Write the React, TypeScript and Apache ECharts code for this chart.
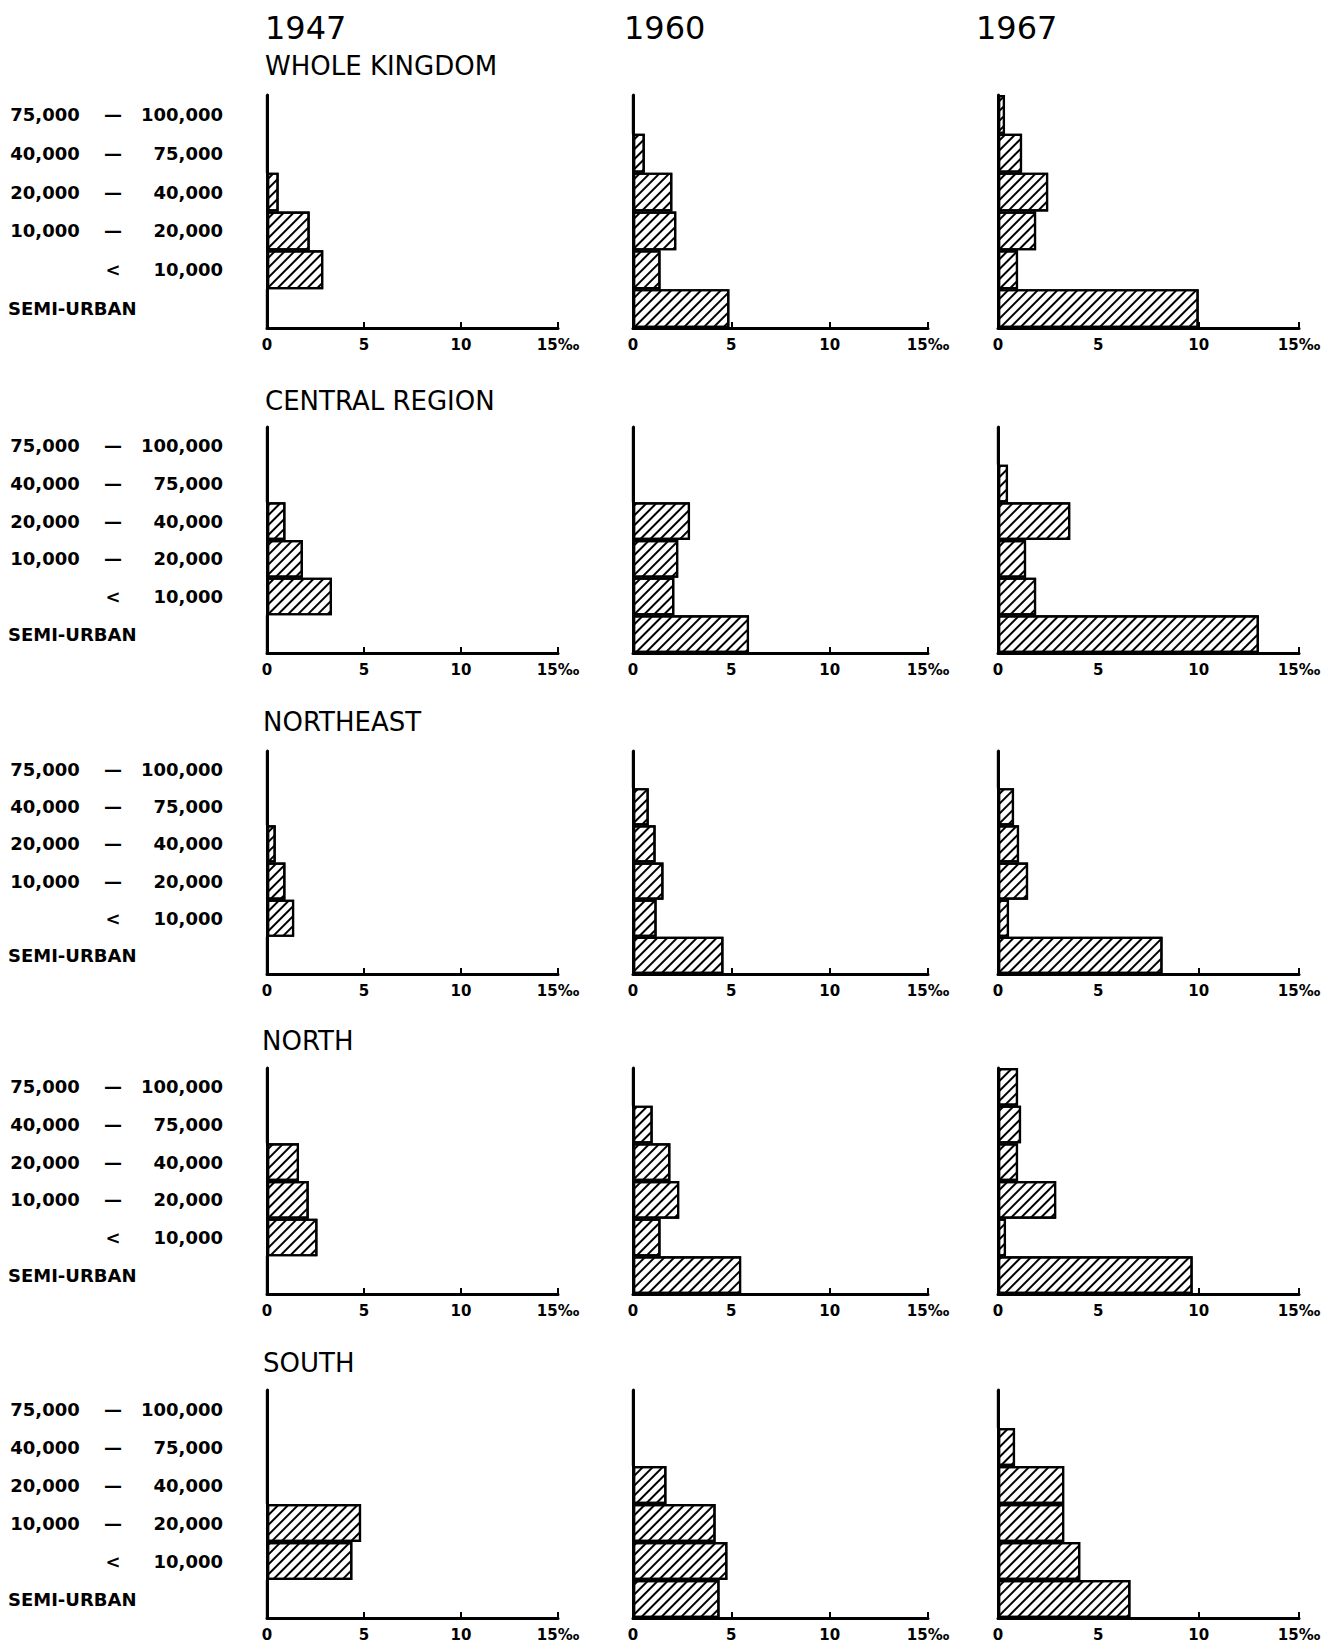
import React, { useEffect, useRef } from "react";
import * as echarts from "echarts";

// ---------- data ----------
const CATEGORIES = [
  "75,000 — 100,000",
  "40,000 — 75,000",
  "20,000 — 40,000",
  "10,000 — 20,000",
  "< 10,000",
  "SEMI-URBAN",
];
const YEARS = ["1947", "1960", "1967"];
const REGIONS = ["WHOLE KINGDOM", "CENTRAL REGION", "NORTHEAST", "NORTH", "SOUTH"];
const X_TICK_LABELS = ["0", "5", "10", "15‰"];
const X_MAX = 15;
const X_INTERVAL = 5;

// values per category (top to bottom), per mille
const WHOLE_KINGDOM_1947 = [0, 0, 0.6, 2.2, 2.9, 0];
const WHOLE_KINGDOM_1960 = [0, 0.6, 2.0, 2.2, 1.4, 4.9];
const WHOLE_KINGDOM_1967 = [0.35, 1.2, 2.5, 1.9, 1.0, 10.0];

const CENTRAL_1947 = [0, 0, 0.95, 1.85, 3.35, 0];
const CENTRAL_1960 = [0, 0, 2.9, 2.3, 2.1, 5.9];
const CENTRAL_1967 = [0, 0.5, 3.6, 1.4, 1.9, 13.0];

const NORTHEAST_1947 = [0, 0, 0.45, 0.95, 1.4, 0];
const NORTHEAST_1960 = [0, 0.8, 1.15, 1.55, 1.2, 4.6];
const NORTHEAST_1967 = [0, 0.8, 1.05, 1.5, 0.55, 8.2];

const NORTH_1947 = [0, 0, 1.65, 2.15, 2.6, 0];
const NORTH_1960 = [0, 1.0, 1.9, 2.35, 1.4, 5.5];
const NORTH_1967 = [1.0, 1.15, 1.0, 2.9, 0.4, 9.7];

const SOUTH_1947 = [0, 0, 0, 4.85, 4.4, 0];
const SOUTH_1960 = [0, 0, 1.7, 4.2, 4.8, 4.4];
const SOUTH_1967 = [0, 0.85, 3.3, 3.3, 4.1, 6.6];

const PANEL_VALUES = [
  [WHOLE_KINGDOM_1947, WHOLE_KINGDOM_1960, WHOLE_KINGDOM_1967],
  [CENTRAL_1947, CENTRAL_1960, CENTRAL_1967],
  [NORTHEAST_1947, NORTHEAST_1960, NORTHEAST_1967],
  [NORTH_1947, NORTH_1960, NORTH_1967],
  [SOUTH_1947, SOUTH_1960, SOUTH_1967],
];

// ---------- layout ----------
const ROW_TOP = [95, 427, 751, 1068, 1390];
const ROW_BOTTOM = [328, 653, 974, 1294, 1618];
const COL_LEFT = [267, 633, 998];
const COL_WIDTH = [291, 295, 301];
const REGION_TITLE_Y = [66, 401, 722, 1041, 1363];
const REGION_TITLE_X = [265, 265, 263, 262, 263];
const YEAR_X = [265, 624, 976];
const YEAR_Y = 28;

const FONT = "DejaVu Sans";

function formatCategory(v: string): string {
  if (v.includes(" — ")) {
    const [lo, hi] = v.split(" — ");
    return `{a|${lo}}{b|—}{c|${hi}}`;
  }
  if (v.startsWith("<")) {
    return `{a|}{b|<}{c|${v.slice(1).trim()}}`;
  }
  return `{s|${v}}`;
}

export default function App() {
  const ref = useRef<HTMLDivElement>(null);

  useEffect(() => {
    document.body.style.margin = "0";
    if (!ref.current) return;
    const chart = echarts.init(ref.current, undefined, { renderer: "svg" });

    const grids: any[] = [];
    const xAxes: any[] = [];
    const yAxes: any[] = [];
    const series: any[] = [];

    const labelFont = { fontFamily: FONT, fontSize: 18, fontWeight: "bold", color: "#000" };

    PANEL_VALUES.forEach((row, r) => {
      row.forEach((vals, c) => {
        const idx = grids.length;
        grids.push({
          left: COL_LEFT[c],
          width: COL_WIDTH[c],
          top: ROW_TOP[r],
          height: ROW_BOTTOM[r] - ROW_TOP[r],
          containLabel: false,
          outerBoundsMode: "none",
        });
        xAxes.push({
          type: "value",
          gridIndex: idx,
          min: 0,
          max: X_MAX,
          interval: X_INTERVAL,
          axisLine: { show: true, lineStyle: { color: "#000", width: 3 } },
          axisTick: { show: true, inside: true, length: 6, lineStyle: { color: "#000", width: 2 } },
          splitLine: { show: false },
          axisLabel: {
            show: true,
            margin: 9,
            fontFamily: FONT,
            fontSize: 15,
            fontWeight: "bold",
            color: "#000",
            formatter: (v: number) => X_TICK_LABELS[Math.round(v / X_INTERVAL)] ?? String(v),
          },
        });
        yAxes.push({
          type: "category",
          gridIndex: idx,
          data: CATEGORIES,
          inverse: true,
          boundaryGap: true,
          axisLine: { show: true, lineStyle: { color: "#000", width: 3 } },
          axisTick: { show: false },
          splitLine: { show: false },
          axisLabel: {
            show: c === 0,
            interval: 0,
            margin: 44,
            ...labelFont,
            formatter: formatCategory,
            rich: {
              a: { ...labelFont, width: 74, align: "right" },
              b: { ...labelFont, width: 62, align: "center" },
              c: { ...labelFont, width: 79, align: "right" },
              s: { ...labelFont, width: 215, align: "left" },
            },
          },
        });
        series.push({
          type: "bar",
          xAxisIndex: idx,
          yAxisIndex: idx,
          data: vals,
          barCategoryGap: "0%",
          barGap: "0%",
          itemStyle: {
            color: "#fff",
            borderColor: "#000",
            borderWidth: 2.2,
            decal: {
              symbol: "rect",
              symbolSize: 1,
              color: "#000",
              dashArrayX: [1, 0],
              dashArrayY: [1.8, 4.2],
              rotation: -Math.PI / 4,
            },
          },
          emphasis: { disabled: true },
        });
      });
    });

    const graphics: any[] = [];
    YEARS.forEach((y, i) => {
      graphics.push({
        type: "text",
        x: YEAR_X[i],
        y: YEAR_Y,
        style: {
          text: y,
          fontFamily: FONT,
          fontSize: 32,
          fontWeight: "normal",
          fill: "#000",
          align: "left",
          verticalAlign: "middle",
        },
      });
    });
    REGIONS.forEach((name, i) => {
      graphics.push({
        type: "text",
        x: REGION_TITLE_X[i],
        y: REGION_TITLE_Y[i],
        style: {
          text: name,
          fontFamily: FONT,
          fontSize: 26,
          fontWeight: "normal",
          fill: "#000",
          align: "left",
          verticalAlign: "middle",
        },
      });
    });

    chart.setOption({
      animation: false,
      backgroundColor: "#fff",
      grid: grids,
      xAxis: xAxes,
      yAxis: yAxes,
      series,
      graphic: graphics,
    });

    return () => chart.dispose();
  }, []);

  return <div ref={ref} style={{ width: 1326, height: 1649 }} />;
}
